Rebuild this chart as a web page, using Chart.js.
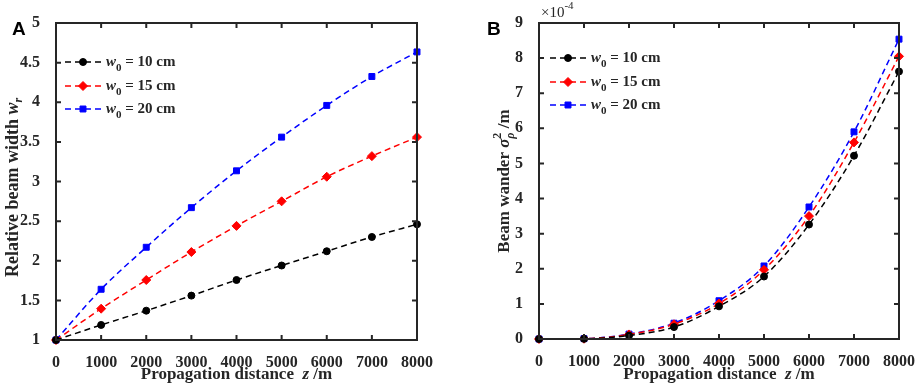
<!DOCTYPE html>
<html>
<head>
<meta charset="utf-8">
<script src="https://cdn.jsdelivr.net/npm/chart.js@4/dist/chart.umd.min.js"></script>
<style>
  html, body { margin: 0; padding: 0; background: #fff; }
  .panel { position: absolute; top: 0; width: 460px; height: 388px; }
</style>
</head>
<body>
<div class="panel" style="left:0"><canvas id="chartA" width="460" height="388"></canvas></div>
<div class="panel" style="left:460px"><canvas id="chartB" width="460" height="388"></canvas></div>
<script>
// propagation distance z (m)
const distances = [0, 1000, 2000, 3000, 4000, 5000, 6000, 7000, 8000];
const seriesLabels = ['10 cm', '15 cm', '20 cm'];

// panel A: relative beam width w_r
const widthW10 = [1, 1.19, 1.37, 1.56, 1.757, 1.94, 2.12, 2.30, 2.46];
const widthW15 = [1, 1.395, 1.757, 2.11, 2.44, 2.75, 3.06, 3.32, 3.56];
const widthW20 = [1, 1.64, 2.17, 2.67, 3.135, 3.56, 3.96, 4.325, 4.635];

// panel B: beam wander sigma_rho^2 (m)
const wanderW10 = [0, 0.5e-6, 0.10e-4, 0.34e-4, 0.93e-4, 1.78e-4, 3.26e-4, 5.22e-4, 7.62e-4];
const wanderW15 = [0, 0.8e-6, 0.13e-4, 0.42e-4, 1.01e-4, 1.97e-4, 3.50e-4, 5.60e-4, 8.05e-4];
const wanderW20 = [0, 1.0e-6, 0.14e-4, 0.45e-4, 1.09e-4, 2.08e-4, 3.76e-4, 5.90e-4, 8.54e-4];

const colors = ['#000000', '#ff0000', '#0000ff'];
const markers = ['circle', 'rectRot', 'rect'];
const radii = [3.5, 4.5, 4.2];
const ink = '#262626';
const SERIF = '"Liberation Serif", "Times New Roman", serif';

function font(size, italic, bold) {
    return (italic ? 'italic ' : '') + (bold === false ? '' : 'bold ') + size + 'px ' + SERIF;
}

// draws text made of parts with mixed style, sub/superscripts
function richText(ctx, parts, x, y, align, rot) {
    ctx.save();
    ctx.translate(x, y);
    if (rot) ctx.rotate(rot);
    ctx.textBaseline = 'middle';
    ctx.textAlign = 'left';
    let pos = [], cur = 0, prevStart = 0, prevW = 0;
    parts.forEach(p => {
        ctx.font = font(p.size, p.it, p.bold);
        const w = ctx.measureText(p.t).width;
        if (p.stack) {
            pos.push(prevStart);
            cur = prevStart + Math.max(prevW, w);
        } else {
            pos.push(cur);
            prevStart = cur;
            prevW = w;
            cur += w;
        }
    });
    const x0 = align === 'center' ? -cur / 2 : 0;
    parts.forEach((p, i) => {
        ctx.font = font(p.size, p.it, p.bold);
        ctx.fillStyle = ink;
        ctx.fillText(p.t, x0 + pos[i], p.dy || 0);
    });
    ctx.restore();
}

function makeDatasets(arrays) {
    return arrays.map((arr, i) => ({
        label: seriesLabels[i],
        data: distances.map((z, k) => ({ x: z, y: arr[k] })),
        borderColor: colors[i],
        backgroundColor: colors[i],
        borderWidth: 1.5,
        borderDash: [6, 4],
        pointStyle: markers[i],
        pointRadius: radii[i],
        pointBorderWidth: 1,
        cubicInterpolationMode: 'monotone',
        clip: false
    }));
}

const framePlugin = {
    id: 'frame',
    afterDraw(chart, args, opts) {
        const ctx = chart.ctx;
        const a = chart.chartArea;
        const sx = chart.scales.x, sy = chart.scales.y;
        ctx.save();
        // inward ticks on all four sides
        ctx.strokeStyle = ink;
        ctx.lineWidth = 2;
        ctx.setLineDash([]);
        ctx.beginPath();
        sx.ticks.forEach(t => {
            const px = sx.getPixelForValue(t.value);
            ctx.moveTo(px, a.bottom); ctx.lineTo(px, a.bottom - 5);
            ctx.moveTo(px, a.top); ctx.lineTo(px, a.top + 5);
        });
        sy.ticks.forEach(t => {
            const py = sy.getPixelForValue(t.value);
            ctx.moveTo(a.left, py); ctx.lineTo(a.left + 5, py);
            ctx.moveTo(a.right, py); ctx.lineTo(a.right - 5, py);
        });
        ctx.stroke();
        ctx.strokeRect(a.left, a.top, a.right - a.left, a.bottom - a.top);

        // legend inside the plot
        chart.data.datasets.forEach((ds, i) => {
            const y = a.top + opts.legendY[i];
            const x0 = a.left + opts.legendX;
            ctx.strokeStyle = ds.borderColor;
            ctx.lineWidth = 1.5;
            ctx.setLineDash([6, 4]);
            ctx.beginPath();
            ctx.moveTo(x0, y); ctx.lineTo(x0 + 36, y);
            ctx.stroke();
            ctx.setLineDash([]);
            ctx.fillStyle = ds.backgroundColor;
            ctx.strokeStyle = ds.borderColor;
            ctx.lineWidth = 1;
            Chart.helpers.drawPoint(ctx, { pointStyle: ds.pointStyle, radius: ds.pointRadius, rotation: 0, borderWidth: 1 }, x0 + 18, y);
            richText(ctx, [
                { t: 'w', size: 15, it: true },
                { t: '0', size: 11, dy: 6 },
                { t: ' = ' + ds.label, size: 15 }
            ], x0 + 41, y, 'left');
        });

        // x axis title
        const cx = (a.left + a.right) / 2;
        richText(ctx, [
            { t: 'Propagation distance  ', size: 17 },
            { t: 'z', size: 17, it: true },
            { t: ' /m', size: 17 }
        ], cx, 375, 'center');

        // y axis title
        const cy = (a.top + a.bottom) / 2 + opts.yTitleShift;
        richText(ctx, opts.yTitle, opts.yTitleX, cy, 'center', -Math.PI / 2);

        // panel letter
        ctx.font = 'bold 19px "Liberation Sans", Arial, sans-serif';
        ctx.fillStyle = '#000';
        ctx.textBaseline = 'alphabetic';
        ctx.textAlign = 'left';
        ctx.fillText(opts.letter, opts.letterX, 35);

        if (opts.exponent) {
            richText(ctx, [
                { t: '\u00d710', size: 15, bold: false },
                { t: '-4', size: 11, bold: false, dy: -7 }
            ], a.left + 2, 13, 'left');
        }
        ctx.restore();
    }
};

function baseOptions(cfg) {
    return {
        responsive: false,
        animation: false,
        layout: { padding: cfg.padding },
        plugins: {
            legend: { display: false },
            tooltip: { enabled: false },
            frame: cfg.frame
        },
        scales: {
            x: {
                type: 'linear',
                min: 0,
                max: 8000,
                grid: { display: false },
                border: { display: false },
                ticks: {
                    stepSize: 1000,
                    maxRotation: 0,
                    padding: 5,
                    color: ink,
                    font: { family: SERIF, size: 16, weight: 'bold' },
                    callback: v => String(v)
                },
                afterFit: s => { s.height = cfg.xHeight; }
            },
            y: {
                min: cfg.yMin,
                max: cfg.yMax,
                grid: { display: false },
                border: { display: false },
                ticks: {
                    stepSize: cfg.yStep,
                    padding: 8,
                    color: ink,
                    font: { family: SERIF, size: 16, weight: 'bold' },
                    callback: cfg.yFormat
                },
                afterFit: s => { s.width = cfg.yWidth; }
            }
        }
    };
}

new Chart(document.getElementById('chartA'), {
    type: 'line',
    data: { datasets: makeDatasets([widthW10, widthW15, widthW20]) },
    options: baseOptions({
        padding: { left: 0, right: 43, top: 23, bottom: 0 },
        xHeight: 48,
        yWidth: 56,
        yMin: 1, yMax: 5, yStep: 0.5,
        yFormat: v => String(Math.round(v * 10) / 10),
        frame: {
            letter: 'A', letterX: 12,
            legendX: 9, legendY: [39, 63, 86],
            yTitleX: 13, yTitleShift: 6,
            yTitle: [
                { t: 'Relative beam width ', size: 18 },
                { t: 'w', size: 18, it: true },
                { t: 'r', size: 12, it: true, dy: 6 }
            ]
        }
    }),
    plugins: [framePlugin]
});

new Chart(document.getElementById('chartB'), {
    type: 'line',
    data: { datasets: makeDatasets([wanderW10, wanderW15, wanderW20]) },
    options: baseOptions({
        padding: { left: 0, right: 18, top: 23, bottom: 0 },
        xHeight: 49,
        yWidth: 79,
        yMin: 0, yMax: 9e-4, yStep: 1e-4,
        yFormat: v => String(Math.round(v * 1e4)),
        frame: {
            letter: 'B', letterX: 27, exponent: true,
            legendX: 11, legendY: [35, 59, 82],
            yTitleX: 45, yTitleShift: 0,
            yTitle: [
                { t: 'Beam wander ', size: 17 },
                { t: '\u03c3', size: 17, it: true },
                { t: '2', size: 12, dy: -7 },
                { t: '\u03c1', size: 12, it: true, dy: 6, stack: true },
                { t: ' /m', size: 17 }
            ]
        }
    }),
    plugins: [framePlugin]
});
</script>
</body>
</html>
